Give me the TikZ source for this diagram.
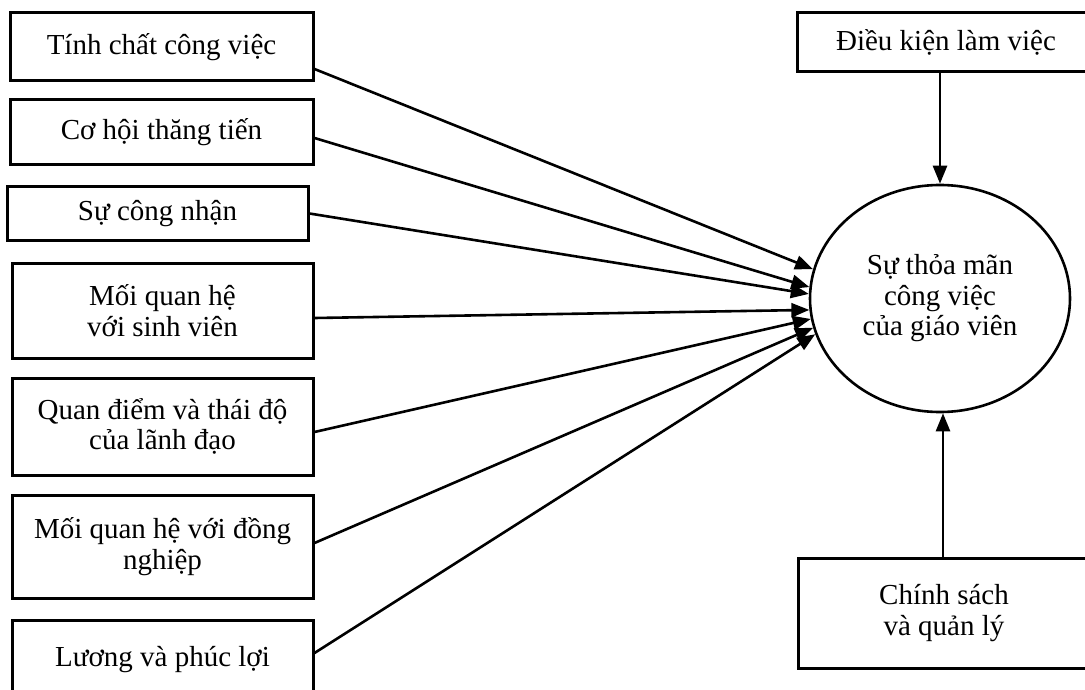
\documentclass[tikz,border=0pt]{standalone}
\usepackage{fontspec}
\setmainfont{Liberation Serif}
\usetikzlibrary{arrows.meta,shapes.geometric}
\begin{document}
\begin{tikzpicture}[x=1pt,y=-1pt,
  factor/.style={draw,line width=3pt,rectangle,align=center,inner sep=0pt,
    font=\fontsize{29}{30.5}\selectfont},
  goal/.style={draw,line width=2.6pt,ellipse,align=center,inner sep=0pt,
    minimum width=260pt,minimum height=227pt,font=\fontsize{29}{30.5}\selectfont},
  link/.style={line width=2.6pt,-{Triangle[length=18pt,width=14pt]}}]
\useasboundingbox (0,0) rectangle (1085,690);
\clip (0,0) rectangle (1085,690);
\fill[white] (0,0) rectangle (1085,690);
% left factors
\node[factor,minimum width=303pt,minimum height=68pt] (b1) at (161.5,47) {Tính chất công việc};
\node[factor,minimum width=303pt,minimum height=65pt] (b2) at (161.5,132.5) {Cơ hội thăng tiến};
\node[factor,minimum width=301pt,minimum height=53pt] (b3) at (157.5,213.5) {Sự công nhận};
\node[factor,minimum width=301pt,minimum height=95pt] (b4) at (162.5,310.5) {Mối quan hệ\\với sinh viên};
\node[factor,minimum width=301pt,minimum height=97pt] (b5) at (162.5,426.5) {Quan điểm và thái độ\\của lãnh đạo};
\node[factor,minimum width=301pt,minimum height=103pt] (b6) at (162.5,546.5) {Mối quan hệ với đồng\\nghiệp};
\node[factor,minimum width=301pt,minimum height=80pt] (b7) at (162.5,660) {Lương và phúc lợi};
% right side
\node[factor,minimum width=298pt,minimum height=59pt] (tr) at (946,42.5) {Điều kiện làm việc};
\node[factor,minimum width=292pt,minimum height=110pt] (br) at (944,613) {Chính sách\\và quản lý};
\node[goal] (sat) at (940,298.5) {Sự thỏa mãn\\công việc\\của giáo viên};
% connectors
\draw[link] ([yshift=-22pt]b1.east) -- (sat.167);
\draw[link] ([yshift=-5.5pt]b2.east) -- (sat.175);
\draw[link] (b3.east) -- (sat.178.5);
\draw[link] ([yshift=-7.5pt]b4.east) -- (sat.185);
\draw[link] ([yshift=-5.5pt]b5.east) -- (sat.189.5);
\draw[link] ([yshift=3.5pt]b6.east) -- (sat.193);
\draw[link] ([yshift=7pt]b7.east) -- (sat.196);
\draw[link] ([xshift=-6pt]tr.south) -- (sat.north);
\draw[link] ([xshift=-1pt]br.north) -- ([xshift=3pt]sat.south);
\end{tikzpicture}
\end{document}
